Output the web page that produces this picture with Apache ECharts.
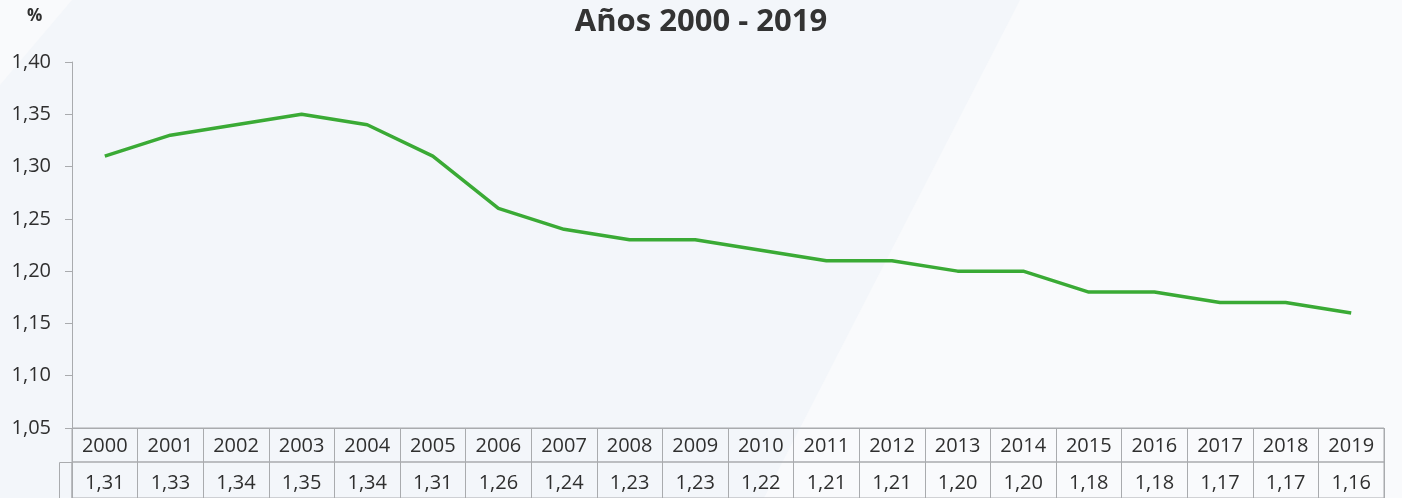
<!DOCTYPE html>
<html>
<head>
<meta charset="utf-8">
<script src="https://cdn.jsdelivr.net/npm/echarts@6/dist/echarts.min.js"></script>
<style>
  html, body { margin: 0; padding: 0; background: #f9fafc; }
  #chart { width: 1402px; height: 498px; }
</style>
</head>
<body>
<div id="chart"></div>
<script>
const years = ['2000', '2001', '2002', '2003', '2004', '2005', '2006', '2007', '2008', '2009',
  '2010', '2011', '2012', '2013', '2014', '2015', '2016', '2017', '2018', '2019']
const values = [1.31, 1.33, 1.34, 1.35, 1.34, 1.31, 1.26, 1.24, 1.23, 1.23,
  1.22, 1.21, 1.21, 1.20, 1.20, 1.18, 1.18, 1.17, 1.17, 1.16]
const yMin = 1.05
const yMax = 1.40
const yStep = 0.05

const fmt = v => v.toFixed(2).replace('.', ',')
const font = '"Open Sans", "Noto Sans", sans-serif'
const gridLine = '#a9abae'
const textColor = '#2f2f2f'

const chart = echarts.init(document.getElementById('chart'))

const left = 72
const right = 18

const option = {
  backgroundColor: '#f9fafc',
  animation: false,
  textStyle: { fontFamily: font },
  title: {
    text: 'Años 2000 - 2019',
    left: 'center',
    top: 2,
    textStyle: { fontSize: 31, fontWeight: 'bold', color: '#333', fontFamily: font }
  },
  graphic: [
    {
      type: 'polygon',
      z: -10,
      silent: true,
      shape: { points: [[72, 0], [1020, 0], [764, 498], [0, 498], [0, 85]] },
      style: { fill: '#f3f6fa' }
    },
    {
      type: 'text',
      left: 27,
      top: 8,
      style: { text: '%', fontSize: 17, fontWeight: 'bold', fill: textColor, fontFamily: font }
    },
    {
      type: 'rect',
      silent: true,
      shape: { x: 59.5, y: 462.5, width: 12.5, height: 40 },
      style: { fill: 'none', stroke: gridLine, lineWidth: 1 }
    }
  ],
  grid: [
    { left: left, right: right, top: 62, bottom: 70 },
    { left: left, right: right, top: 428, height: 34, show: true, borderColor: gridLine, borderWidth: 1 },
    { left: left, right: right, top: 462, height: 45, show: true, borderColor: gridLine, borderWidth: 1 }
  ],
  xAxis: [
    {
      type: 'category',
      gridIndex: 0,
      data: years,
      boundaryGap: true,
      axisLine: { show: true, lineStyle: { color: gridLine } },
      axisTick: { show: false },
      axisLabel: { show: false }
    },
    {
      type: 'category',
      gridIndex: 1,
      data: years,
      position: 'top',
      axisLine: { show: false },
      axisTick: { show: false },
      splitLine: { show: true, lineStyle: { color: gridLine } },
      axisLabel: {
        inside: true, margin: 18, verticalAlign: 'middle',
        fontSize: 20, color: textColor, interval: 0
      }
    },
    {
      type: 'category',
      gridIndex: 2,
      data: years,
      position: 'top',
      axisLine: { show: false },
      axisTick: { show: false },
      splitLine: { show: true, lineStyle: { color: gridLine } },
      axisLabel: {
        inside: true, margin: 21, verticalAlign: 'middle',
        fontSize: 20, color: textColor, interval: 0,
        formatter: (v, i) => fmt(values[i])
      }
    }
  ],
  yAxis: [
    {
      type: 'value',
      gridIndex: 0,
      min: yMin,
      max: yMax,
      interval: yStep,
      axisLine: { show: true, lineStyle: { color: gridLine } },
      axisTick: { show: true, length: 7, lineStyle: { color: gridLine } },
      splitLine: { show: false },
      axisLabel: { margin: 21, fontSize: 20, color: textColor, formatter: v => fmt(v) }
    },
    { type: 'value', gridIndex: 1, show: false },
    { type: 'value', gridIndex: 2, show: false }
  ],
  series: [
    {
      type: 'line',
      xAxisIndex: 0,
      yAxisIndex: 0,
      data: values,
      symbol: 'none',
      lineStyle: { color: '#3aaa35', width: 3.5 }
    }
  ]
}

chart.setOption(option)
</script>
</body>
</html>
